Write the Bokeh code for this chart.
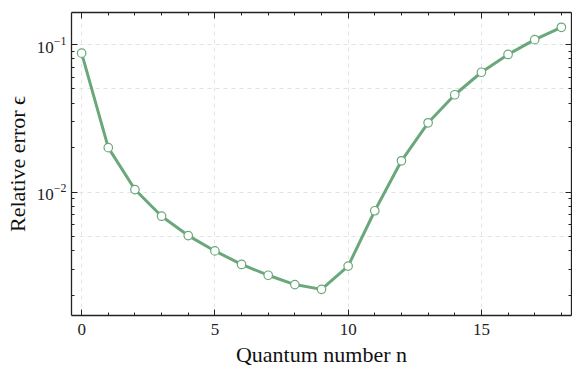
from bokeh.plotting import figure
from bokeh.models import LogAxis, LinearAxis, FixedTicker, Range1d, LogTicker, ColumnDataSource
from bokeh.embed import file_html
from bokeh.resources import INLINE

n = list(range(19))
rel_error = [0.0875, 0.0200, 0.0104, 0.00686, 0.00507, 0.00399, 0.00323, 0.00273,
             0.00236, 0.00219, 0.00315, 0.00747, 0.0163, 0.0295, 0.0457, 0.0649,
             0.0857, 0.108, 0.131]
x_ticks = [0, 5, 10, 15]
y_grid_ticks = [0.001, 0.005, 0.01, 0.05, 0.1]

COLOR = "#6aa87b"
FONT = "Liberation Serif"
AX = "#222222"

src = ColumnDataSource(dict(n=n, err=rel_error))

p = figure(width=572, height=369, y_axis_type="log", output_backend="svg",
           toolbar_location=None, x_range=Range1d(-0.38, 18.38), y_range=Range1d(0.001456, 0.165),
           min_border_left=71, min_border_right=1, min_border_top=12, min_border_bottom=51)
p.background_fill_color = "white"
p.border_fill_color = "white"
p.outline_line_color = None

p.line("n", "err", source=src, line_color=COLOR, line_width=3)
p.scatter("n", "err", source=src, size=8.5, fill_color="white", line_color=COLOR, line_width=1.2)

p.xgrid.ticker = FixedTicker(ticks=x_ticks)
p.ygrid.ticker = FixedTicker(ticks=y_grid_ticks)
for g in (p.xgrid, p.ygrid):
    g.grid_line_color = "#e3e3e3"
    g.grid_line_dash = "4 4"
    g.grid_line_width = 1

xt = FixedTicker(ticks=x_ticks, minor_ticks=list(range(19)))
yt = LogTicker(num_minor_ticks=10)

def style(ax, labels=True):
    ax.axis_line_color = AX
    ax.axis_line_width = 1.3
    ax.major_tick_line_color = AX
    ax.minor_tick_line_color = AX
    ax.major_tick_in = 6
    ax.major_tick_out = 0
    ax.minor_tick_in = 3
    ax.minor_tick_out = 0
    ax.major_label_text_font = FONT
    ax.major_label_text_font_size = "17px"
    ax.major_label_text_color = "#222222"
    ax.axis_label_text_font = FONT
    ax.axis_label_text_font_size = "22px"
    ax.axis_label_text_font_style = "normal"
    ax.axis_label_text_color = "#111111"
    if not labels:
        ax.major_label_text_font_size = "1px"
        ax.major_label_text_alpha = 0
        ax.major_label_standoff = 0

xa = p.xaxis[0]
xa.ticker = xt
xa.axis_label = "Quantum number n"
xa.axis_label_standoff = 4
xa.major_label_standoff = 8
style(xa)

ya = p.yaxis[0]
ya.ticker = yt
ya.axis_label = "Relative error ϵ"
ya.axis_label_standoff = 4
ya.major_label_standoff = 5
style(ya)

top = LinearAxis(ticker=xt)
style(top, labels=False)
p.add_layout(top, "above")
right = LogAxis(ticker=yt)
style(right, labels=False)
p.add_layout(right, "right")

open("out.html", "w").write(file_html(p, INLINE))
